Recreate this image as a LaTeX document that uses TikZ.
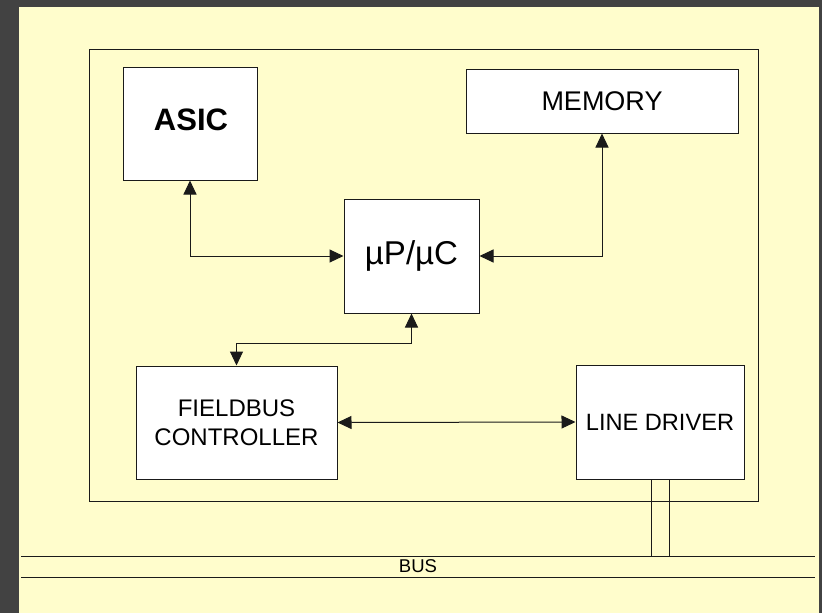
\documentclass[tikz,border=0pt]{standalone}
\usepackage{fontspec}
\setmainfont{Liberation Sans}
\usetikzlibrary{arrows.meta}
\definecolor{panel}{HTML}{FFFDCC}
\definecolor{frame}{HTML}{424242}
\definecolor{ink}{HTML}{1A1A1A}
\tikzset{
  box/.style={draw=ink, line width=1pt, fill=white, inner sep=0pt, align=center},
  wire/.style={draw=ink, line width=1pt},
  link/.style={wire, {Triangle[length=14pt,width=13pt]}-{Triangle[length=14pt,width=13pt]}},
}
\begin{document}
\begin{tikzpicture}[x=1pt, y=-1pt]
  % page background and panel
  \fill[frame] (0,0) rectangle (822,613);
  \fill[panel] (19,7) rectangle (819,613);
  \useasboundingbox (0,0) rectangle (822,613);

  % device enclosure
  \draw[wire] (89,49) rectangle (758,501);

  % functional blocks
  \node[box, minimum width=134pt, minimum height=113pt] (asic) at (190,123.5) {};
  \node[font=\fontsize{31}{36}\selectfont\bfseries] (asictext) at ([xshift=1pt,yshift=4pt]asic.center) {ASIC};
  \node[box, minimum width=272pt, minimum height=64pt, font=\fontsize{27}{31}\selectfont] (mem) at (602,101) {MEMORY};
  \node[box, minimum width=135pt, minimum height=114pt, font=\fontsize{33}{37}\selectfont] (mp) at (411.5,256) {µP/µC};
  \node[box, minimum width=201pt, minimum height=113pt, font=\fontsize{24}{29}\selectfont] (fb) at (236.5,422.5) {FIELDBUS\\CONTROLLER};
  \node[box, minimum width=168pt, minimum height=114pt, font=\fontsize{23.6}{28}\selectfont] (ld) at (660,422) {LINE DRIVER};

  % internal connections
  \draw[link] (asic.south) |- (mp.west);
  \draw[link] (mp.east) -| (mem.south);
  \draw[link] (mp.south) -- ++(0,30) -| (fb.north);
  \draw[link] (fb.east) -- (ld.west);

  % field bus
  \coordinate (busTL) at (21,556);
  \coordinate (busTR) at (815,556);
  \coordinate (busBL) at (21,577);
  \coordinate (busBR) at (815,577);
  \draw[wire] (busTL) -- (busTR);
  \draw[wire] (busBL) -- (busBR);
  \node[font=\fontsize{18.5}{22}\selectfont] (bus) at (418,566) {BUS};

  % taps from the line driver to the bus
  \coordinate (tapA) at (651,556);
  \coordinate (tapB) at (669,556);
  \draw[wire] (ld.south -| tapA) -- (tapA);
  \draw[wire] (ld.south -| tapB) -- (tapB);
\end{tikzpicture}
\end{document}
